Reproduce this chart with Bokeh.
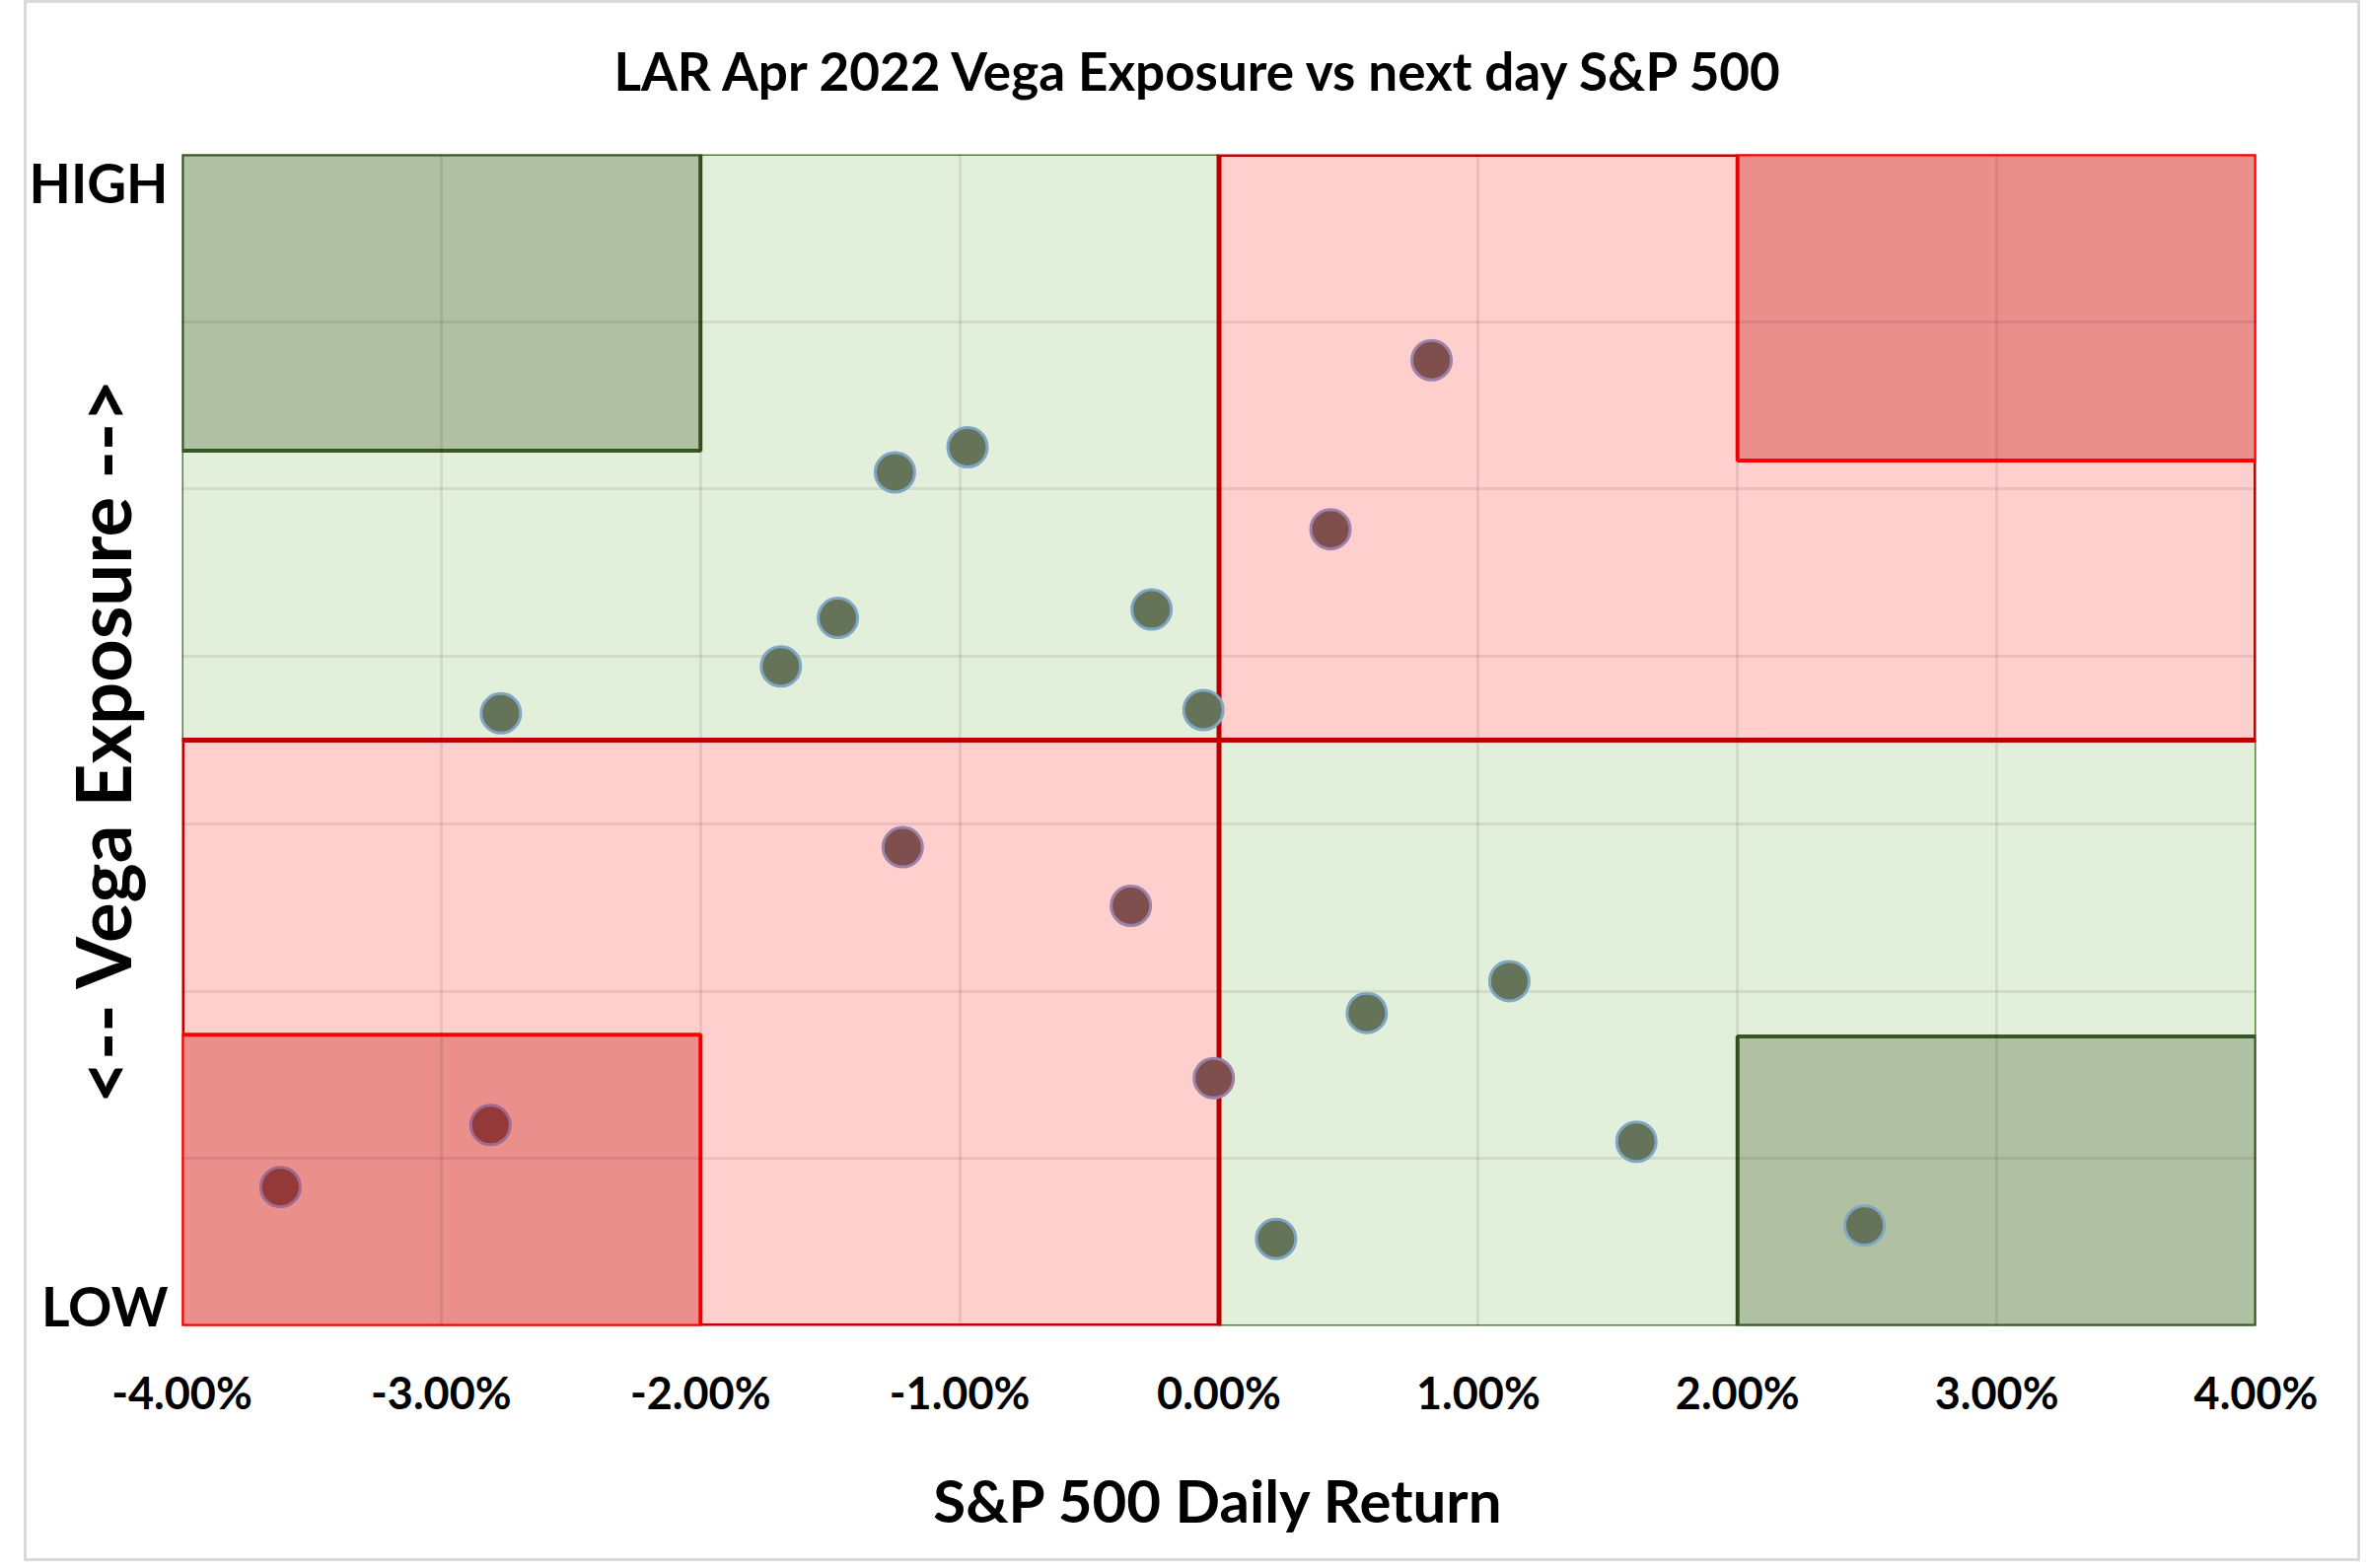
from bokeh.plotting import figure
from bokeh.models import FixedTicker, NumeralTickFormatter, Range1d, LinearAxis
from bokeh.embed import file_html
from bokeh.resources import INLINE

# ---------------- data ----------------
title_text = "LAR Apr 2022 Vega Exposure vs next day S&P 500"
x_label = "S&P 500 Daily Return"
y_label = "<-- Vega Exposure -->"
x_ticks = [-0.04, -0.03, -0.02, -0.01, 0.0, 0.01, 0.02, 0.03, 0.04]
y_grid = [0, 1, 2, 3, 4, 5, 6, 7]
y_level_ticks = [0.12, 6.83]
y_level_labels = ["LOW", "HIGH"]

# quadrants (good = green, bad = red)
quad_left = [-0.04, 0.0, -0.04, 0.0]
quad_right = [0.0, 0.04, 0.0, 0.04]
quad_bottom = [3.5, 3.5, 0.0, 0.0]
quad_top = [7.0, 7.0, 3.5, 3.5]
quad_kind = ["good", "bad", "bad", "good"]

# extreme zones
ext_left = [-0.04, 0.02, -0.04, 0.02]
ext_right = [-0.02, 0.04, -0.02, 0.04]
ext_bottom = [5.23, 5.17, 0.0, 0.0]
ext_top = [7.0, 7.0, 1.74, 1.73]
ext_kind = ["good", "bad", "bad", "good"]

# points: S&P 500 daily return vs vega exposure level
green_x = [-0.0277, -0.0169, -0.0147, -0.0125, -0.0097, -0.0026, -0.0006,
           0.0057, 0.0112, 0.0161, 0.0249, 0.0022]
green_y = [3.66, 3.94, 4.23, 5.10, 5.25, 4.28, 3.68,
           1.87, 2.06, 1.10, 0.60, 0.52]
red_x = [0.0082, 0.0043, -0.0122, -0.0034, -0.0002]
red_y = [5.77, 4.76, 2.86, 2.51, 1.48]
red_ext_x = [-0.0281, -0.0362]
red_ext_y = [1.20, 0.83]

# ---------------- styles ----------------
FONT = "Lato"
fill_map = {"good": "#e2efda", "bad": "#fecfcc"}
line_map = {"good": "#548235", "bad": "#c00000"}
lw_map = {"good": 3, "bad": 5}
ext_fill_map = {"good": "#b0c1a3", "bad": "#eb8f8c"}
ext_line_map = {"good": "#375623", "bad": "#ff0000"}

p = figure(width=2369, height=1583,
           x_range=Range1d(-0.04, 0.04), y_range=Range1d(0, 7),
           output_backend="svg", toolbar_location=None,
           min_border_left=157, min_border_right=109,
           min_border_top=153, min_border_bottom=242)
p.styles = {"margin-left": "24px", "border": "3px solid #d9d9d9"}
p.outline_line_color = None
p.background_fill_color = "white"
p.border_fill_color = "white"

xa = p.below[0]
ya = p.left[0]

# title
p.title.text = title_text
p.title.align = "left"
p.title.offset = 438
p.title.vertical_align = "top"
p.title.standoff = 72
p.title.text_font = FONT
p.title.text_font_style = "bold"
p.title.text_font_size = "53px"
p.title.text_color = "black"

# invisible spacer axis between title and plot area (white tick on white border)
spacer = LinearAxis(ticker=FixedTicker(ticks=[0.0]), major_tick_out=16, major_tick_in=0,
                    major_tick_line_color="white", minor_tick_line_color=None,
                    axis_line_color=None, major_label_standoff=0,
                    major_label_overrides={0.0: ""}, major_label_text_alpha=0)
p.add_layout(spacer, "above")

# quadrants: good first, then bad so red edges sit on top
for kind in ["good", "bad"]:
    idx = [i for i, k in enumerate(quad_kind) if k == kind]
    p.quad(left=[quad_left[i] for i in idx], right=[quad_right[i] for i in idx],
           bottom=[quad_bottom[i] for i in idx], top=[quad_top[i] for i in idx],
           fill_color=fill_map[kind], line_color=line_map[kind],
           line_width=lw_map[kind], level="image")
for kind in ["good", "bad"]:
    idx = [i for i, k in enumerate(ext_kind) if k == kind]
    p.quad(left=[ext_left[i] for i in idx], right=[ext_right[i] for i in idx],
           bottom=[ext_bottom[i] for i in idx], top=[ext_top[i] for i in idx],
           fill_color=ext_fill_map[kind], line_color=ext_line_map[kind],
           line_width=4, level="image")

# grid
p.xgrid.ticker = FixedTicker(ticks=x_ticks)
p.ygrid.ticker = FixedTicker(ticks=y_grid)
p.grid.grid_line_color = "#000000"
p.grid.grid_line_alpha = 0.08
p.grid.grid_line_width = 3
p.grid.level = "underlay"

# points
p.scatter(green_x, green_y, size=40, fill_color="#657359", line_color="#7fa6c4", line_width=3)
p.scatter(red_x, red_y, size=40, fill_color="#7f4f4e", line_color="#9c82ab", line_width=3)
p.scatter(red_ext_x, red_ext_y, size=40, fill_color="#943838", line_color="#a06a8f", line_width=3)

# x axis
xa.ticker = FixedTicker(ticks=x_ticks)
xa.formatter = NumeralTickFormatter(format="0.00%")
xa.axis_line_color = None
xa.major_tick_line_color = None
xa.minor_tick_line_color = None
xa.major_label_text_font = FONT
xa.major_label_text_font_style = "bold"
xa.major_label_text_font_size = "45px"
xa.major_label_text_color = "black"
xa.major_label_standoff = 34
xa.axis_label = x_label
xa.axis_label_text_font = FONT
xa.axis_label_text_font_style = "bold"
xa.axis_label_text_font_size = "60px"
xa.axis_label_text_color = "black"
xa.axis_label_standoff = 43

# y axis: HIGH / LOW as tick labels, axis label pulled in over them
ya.ticker = FixedTicker(ticks=y_level_ticks)
ya.major_label_overrides = {t: s for t, s in zip(y_level_ticks, y_level_labels)}
ya.major_label_text_font = FONT
ya.major_label_text_font_style = "bold"
ya.major_label_text_font_size = "55px"
ya.major_label_text_color = "black"
ya.major_label_standoff = 8
ya.axis_line_color = None
ya.major_tick_line_color = None
ya.minor_tick_line_color = None
ya.axis_label = y_label
ya.axis_label_text_font = FONT
ya.axis_label_text_font_style = "bold"
ya.axis_label_text_font_size = "76px"
ya.axis_label_text_color = "black"
ya.axis_label_standoff = -122

open("out.html", "w").write(file_html(p, INLINE))
